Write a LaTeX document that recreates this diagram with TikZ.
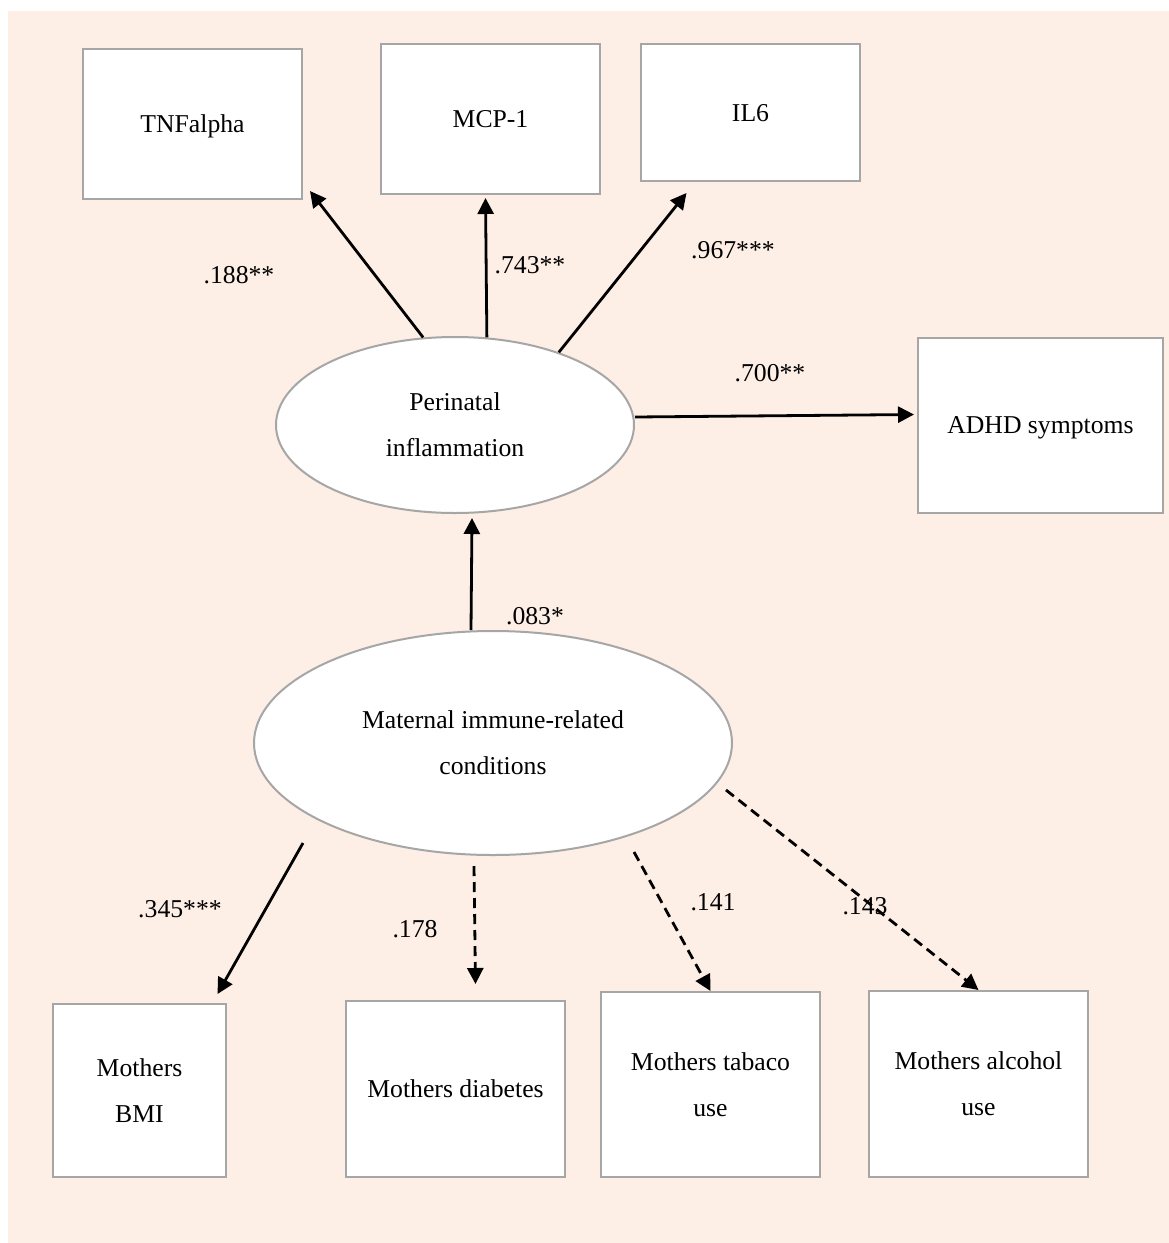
\documentclass[tikz,border=0pt]{standalone}
\usepackage{fontspec}
\setmainfont{Liberation Serif}
\usetikzlibrary{arrows.meta,calc,shapes.geometric}
\definecolor{peach}{HTML}{FDEEE6}
\definecolor{bordergray}{HTML}{A6A6A6}
\begin{document}
\begin{tikzpicture}[x=1pt,y=-1pt,
  lbl/.style={font=\fontsize{25.7}{46}\selectfont, inner sep=0pt},
  box/.style={draw=bordergray, line width=2pt, fill=white, rectangle, inner sep=0pt, align=center, text depth=0pt, font=\fontsize{25.7}{46}\selectfont},
  ell/.style={draw=bordergray, line width=2pt, fill=white, ellipse, inner sep=0pt, align=center, font=\fontsize{25.7}{46}\selectfont},
  arr/.style={line width=2.8pt, -{Triangle[length=16pt,width=16pt]}},
  darr/.style={arr, dash pattern=on 10pt off 6pt}]
\useasboundingbox (0,0) rectangle (1169,1243);
\fill[peach] (8,11) rectangle (1169,1243);
% boxes
\node[box, minimum width=219pt, minimum height=150pt] (tnf) at (192.5,124) {TNFalpha};
\node[box, minimum width=219pt, minimum height=150pt] (mcp) at (490.5,119) {MCP-1};
\node[box, minimum width=219pt, minimum height=137pt] (il6) at (750.5,112.5) {IL6};
\node[box, minimum width=245pt, minimum height=175pt] (adhd) at (1040.5,425.5) {ADHD symptoms};
\node[ell, minimum width=358pt, minimum height=176pt] (per) at (455,425) {Perinatal\\inflammation};
\node[ell, minimum width=478pt, minimum height=224pt] (mat) at (493,743) {Maternal immune-related\\conditions};
\node[box, minimum width=173pt, minimum height=173pt] (bmi) at (139.5,1090.5) {Mothers\\BMI};
\node[box, minimum width=219pt, minimum height=176pt] (dia) at (455.5,1089) {Mothers diabetes};
\node[box, minimum width=219pt, minimum height=185pt] (tab) at (710.5,1084.5) {Mothers tabaco\\use};
\node[box, minimum width=219pt, minimum height=186pt] (alc) at (978.5,1084) {Mothers alcohol\\use};
% connectors
\draw[arr] (per.110) -- ($(tnf.south east)+(7,-9)$);
\draw[arr] (per.70) -- ($(mcp.south)+(-5,3)$);
\draw[arr] (per.35) -- ($(il6.south)+(-64,11)$);
\draw[arr] ($(per.east)+(0,-8)$) -- ($(adhd.west)+(-3,-11)$);
\draw[arr] ($(mat.north)+(-22,0)$) -- ($(per.south)+(17,4)$);
\draw[arr] ($(mat.center)+(-190,100)$) -- ($(bmi.north)+(78,-9)$);
\draw[darr] ($(mat.south)+(-19,10)$) -- ($(dia.north)+(20,-16)$);
\draw[darr] ($(mat.center)+(141,109)$) -- (tab.north);
\draw[darr] ($(mat.center)+(233,47)$) -- (alc.north);
% labels
\node[lbl] (l1) at (239,275) {.188**};
\node[lbl] (l2) at (530,265) {.743**};
\node[lbl] (l3) at (733,250) {.967***};
\node[lbl] (l4) at (770,373) {.700**};
\node[lbl] (l5) at (535,616) {.083*};
\node[lbl] (l6) at (180,909) {.345***};
\node[lbl] (l7) at (415,929) {.178};
\node[lbl] (l8) at (713,902) {.141};
\node[lbl] (l9) at (865,906) {.143};
\end{tikzpicture}
\end{document}
